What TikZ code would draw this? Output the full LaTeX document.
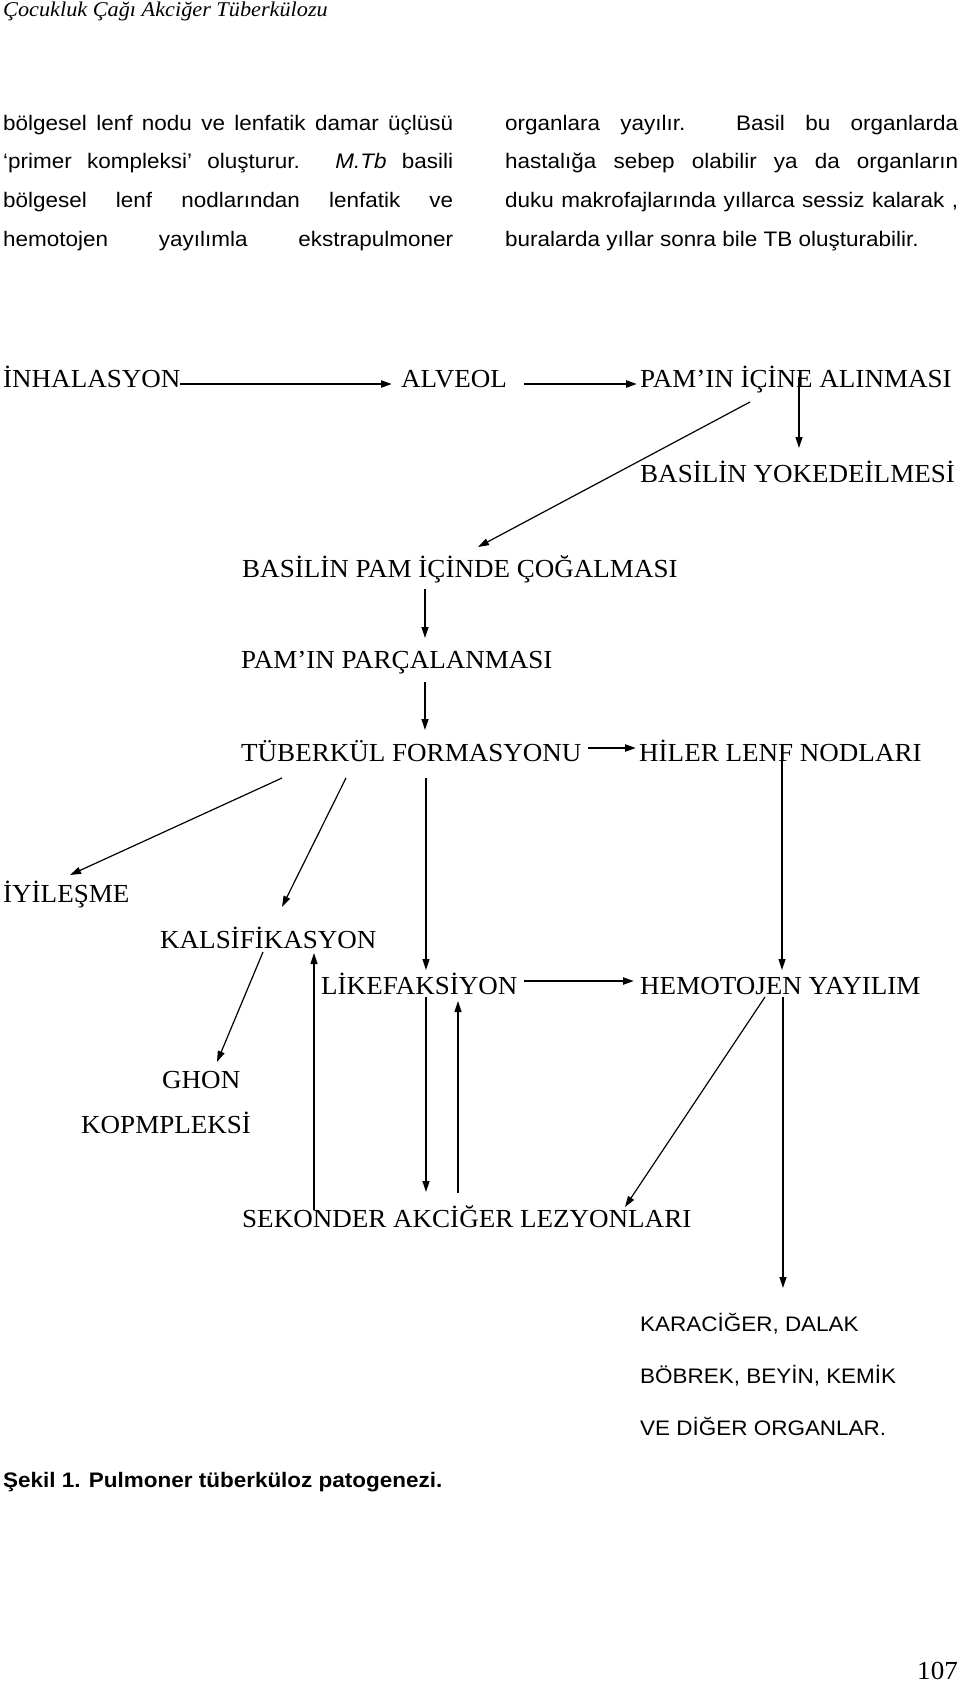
\documentclass[tikz,border=0pt]{standalone}
\usepackage{fontspec}
\setmainfont[FakeStretch=1.04]{Liberation Serif}
\newfontfamily\arialfont[FakeStretch=1.07]{Liberation Sans}
\newfontfamily\headfont[FakeStretch=1.06]{Liberation Serif}
\usetikzlibrary{arrows.meta}

\newcommand\tnr{\fontsize{26}{30}\selectfont}
\newcommand\arl{\arialfont\fontsize{21}{25}\selectfont}
\newcommand\jline[2]{\makebox[#1][s]{#2}}

\begin{document}
\begin{tikzpicture}[
		x = 1pt, y = -1pt,
		lbl/.style = {anchor=base west, inner sep=0, font=\tnr},
		txt/.style = {anchor=base west, inner sep=0, font=\arl},
		arr/.style = {line width=1.2pt, -{Triangle[length=11pt, width=7pt]}},
		harr/.style = {arr, line width=2.2pt}
	]

	\useasboundingbox (0,0) rectangle (960,1682);

	% page text
	\node[anchor=base west, inner sep=0, font=\headfont\itshape\fontsize{21}{25}\selectfont] (head) at (3,16.7) {Çocukluk Çağı Akciğer Tüberkülozu};

	\node[txt] (l1) at (3,130.7) {\jline{450pt}{bölgesel lenf nodu ve lenfatik damar üçlüsü}};
	\node[txt] (l2) at (3,168) {\jline{450pt}{‘primer kompleksi’ oluşturur. \textit{M.Tb} basili}};
	\node[txt] (l3) at (3,207.3) {\jline{450pt}{bölgesel lenf nodlarından lenfatik ve}};
	\node[txt] (l4) at (3,246.7) {\jline{450pt}{hemotojen yayılımla ekstrapulmoner}};

	\node[txt] (r1) at (505,130.7) {\jline{453pt}{organlara yayılır. Basil bu organlarda}};
	\node[txt] (r2) at (505,168) {\jline{453pt}{hastalığa sebep olabilir ya da organların}};
	\node[txt] (r3) at (505,207.3) {\jline{453pt}{duku makrofajlarında yıllarca sessiz kalarak ,}};
	\node[txt] (r4) at (505,246.7) {buralarda yıllar sonra bile TB oluşturabilir.};

	% diagram
	\node[lbl] (inh) at (3,387) {İNHALASYON};
	\node[lbl] (alv) at (401,387) {ALVEOL};
	\node[lbl] (pam) at (640,387) {PAM’IN İÇİNE ALINMASI};
	\node[lbl] (yok) at (640,482) {BASİLİN YOKEDEİLMESİ};
	\node[lbl] (cogal) at (242,577) {BASİLİN PAM İÇİNDE ÇOĞALMASI};
	\node[lbl] (parca) at (241,668) {PAM’IN PARÇALANMASI};
	\node[lbl] (tuber) at (241,761.5) {TÜBERKÜL FORMASYONU};
	\node[lbl] (hiler) at (639,761.5) {HİLER LENF NODLARI};
	\node[lbl] (iyi) at (3,902) {İYİLEŞME};
	\node[lbl] (kals) at (160,948) {KALSİFİKASYON};
	\node[lbl] (like) at (321,994) {LİKEFAKSİYON};
	\node[lbl] (hemo) at (640,994) {HEMOTOJEN YAYILIM};
	\node[lbl] (ghon) at (162,1088) {GHON};
	\node[lbl] (kopm) at (81,1133) {KOPMPLEKSİ};
	\node[lbl] (sek) at (242,1227) {SEKONDER AKCİĞER LEZYONLARI};

	\node[txt] (kara) at (640,1331) {KARACİĞER, DALAK};
	\node[txt] (bobrek) at (640,1383) {BÖBREK, BEYİN, KEMİK};
	\node[txt] (ve) at (640,1435) {VE DİĞER ORGANLAR.};

	\node[txt, font=\arl\bfseries] (caption) at (3,1487) {Şekil 1. Pulmoner tüberküloz patogenezi.};
	\node[lbl, anchor=base east] (page) at (958,1679) {107};

	% connectors
	\draw[harr] ([shift={(177,-3)}]inh.base west) -- ([shift={(-9,-3)}]alv.base west);
	\draw[harr] ([shift={(123,-3)}]alv.base west) -- ([shift={(-3,-3)}]pam.base west);
	\draw[arr] ([shift={(159,-10)}]pam.base west) -- ([shift={(159,-34)}]yok.base west);
	\draw[arr] ([shift={(110,15)}]pam.base west) -- ([shift={(236,-30)}]cogal.base west);
	\draw[arr] ([shift={(183,12)}]cogal.base west) -- ([shift={(184,-30)}]parca.base west);
	\draw[arr] ([shift={(184,14)}]parca.base west) -- ([shift={(184,-31.5)}]tuber.base west);
	\draw[harr] ([shift={(347,-13.5)}]tuber.base west) -- ([shift={(-3,-13.5)}]hiler.base west);
	\draw[arr] ([shift={(41,16.5)}]tuber.base west) -- ([shift={(67,-27)}]iyi.base west);
	\draw[arr] ([shift={(105,16.5)}]tuber.base west) -- ([shift={(122,-41)}]kals.base west);
	\draw[arr] ([shift={(185,16.5)}]tuber.base west) -- ([shift={(105,-24)}]like.base west);
	\draw[arr] ([shift={(143,-14.5)}]hiler.base west) -- ([shift={(142,-24)}]hemo.base west);
	\draw[harr] ([shift={(203,-13)}]like.base west) -- ([shift={(-6,-13)}]hemo.base west);
	\draw[arr] ([shift={(103,4)}]kals.base west) -- ([shift={(55,-26)}]ghon.base west);
	\draw[arr] ([shift={(72,-17)}]sek.base west) -- ([shift={(154,5)}]kals.base west);
	\draw[arr] ([shift={(216,-34)}]sek.base west) -- ([shift={(137,7)}]like.base west);
	\draw[arr] ([shift={(105,3)}]like.base west) -- ([shift={(184,-35)}]sek.base west);
	\draw[arr] ([shift={(125,3)}]hemo.base west) -- ([shift={(383,-20)}]sek.base west);
	\draw[arr] ([shift={(143,3)}]hemo.base west) -- ([shift={(143,-43)}]kara.base west);

\end{tikzpicture}
\end{document}
